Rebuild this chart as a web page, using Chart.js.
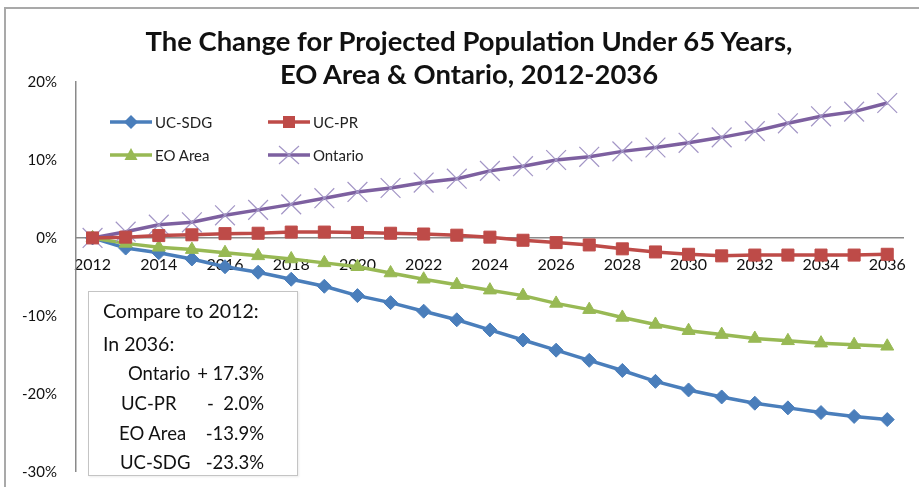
<!DOCTYPE html>
<html>
<head>
<meta charset="utf-8">
<script src="https://cdn.jsdelivr.net/npm/chart.js@4.4.1/dist/chart.umd.min.js"></script>
<style>
  html, body { margin: 0; padding: 0; background: #fff; }
  #wrap { position: relative; width: 919px; height: 487px; overflow: hidden; font-family: Lato, "Open Sans", sans-serif; color: #111; }
  #frame { position: absolute; left: 4px; top: 7px; width: 930px; height: 500px; border-top: 2px solid #a9a9a9; border-left: 2px solid #a9a9a9; box-sizing: border-box; }
  canvas { position: absolute; left: 0; top: 0; }
  .title { position: absolute; left: 0; width: 938px; text-align: center; font-size: 27.4px; font-weight: 700; line-height: 32px; color: #111; }
  .leg { position: absolute; height: 20px; line-height: 20px; font-size: 15px; color: #222; }
  .leg svg { position: absolute; left: 0; top: 0; }
  .leg span { position: absolute; left: 45px; top: 0; white-space: nowrap; }
  #note { position: absolute; left: 88px; top: 291px; width: 210px; height: 185px; border: 1px solid #c4c4c4; box-sizing: border-box; background: #fff; box-shadow: 1px 1px 2px rgba(0,0,0,0.08); }
  .nt { position: absolute; font-size: 18.5px; line-height: 24px; height: 24px; white-space: nowrap; color: #111; }
  .nh { font-size: 19.5px; }
  .nr { text-align: right; }
</style>
</head>
<body>
<div id="wrap">
  <div id="frame"></div>
  <canvas id="c" width="919" height="487"></canvas>
  <div class="title" style="top:25px">The Change for Projected Population Under 65 Years,</div>
  <div class="title" style="top:58px">EO Area &amp; Ontario, 2012-2036</div>
  <div id="legend"></div>
  <div id="note"></div>
</div>
<script>
// ---- data (percent change vs 2012) ----
const years = ["2012","2013","2014","2015","2016","2017","2018","2019","2020","2021","2022","2023","2024","2025","2026","2027","2028","2029","2030","2031","2032","2033","2034","2035","2036"];
const ucSdg   = [0, -1.3, -1.9, -2.7, -3.7, -4.4, -5.3, -6.2, -7.4, -8.3, -9.4, -10.5, -11.8, -13.1, -14.4, -15.7, -17.0, -18.4, -19.5, -20.4, -21.2, -21.8, -22.4, -22.9, -23.3];
const ucPr    = [0, 0.1, 0.3, 0.4, 0.55, 0.6, 0.75, 0.75, 0.7, 0.6, 0.5, 0.35, 0.1, -0.3, -0.6, -0.9, -1.4, -1.8, -2.1, -2.3, -2.2, -2.2, -2.2, -2.2, -2.1];
const eoArea  = [0, -0.7, -1.2, -1.5, -1.9, -2.3, -2.7, -3.2, -3.7, -4.5, -5.3, -6.0, -6.7, -7.4, -8.4, -9.2, -10.2, -11.1, -11.9, -12.4, -12.9, -13.2, -13.5, -13.7, -13.9];
const ontario = [0, 0.8, 1.7, 2.0, 2.9, 3.6, 4.3, 5.1, 5.9, 6.4, 7.1, 7.6, 8.6, 9.2, 10.0, 10.4, 11.1, 11.6, 12.2, 12.9, 13.7, 14.7, 15.6, 16.2, 17.3];
const yTicks = [20, 10, 0, -10, -20, -30];
const seriesNames = ["UC-SDG", "UC-PR", "EO Area", "Ontario"];
const noteTitle = ["Compare to 2012:", "In 2036:"];
const noteLabels = ["Ontario", "UC-PR", "EO Area", "UC-SDG"];
const noteValues = ["+ 17.3%", "-  2.0%", "-13.9%", "-23.3%"];

const C_BLUE = "#4A7EBB", C_RED = "#BE4B48", C_GREEN = "#98B954", C_PURPLE = "#7D60A0", C_CROSS = "#A396C6";

const styles = [
  { color: C_BLUE, mcolor: C_BLUE, style: "rectRot", r: 7, bw: 1 },
  { color: C_RED, mcolor: C_RED, style: "rect", r: 8.5, bw: 1 },
  { color: C_GREEN, mcolor: C_GREEN, style: "triangle", r: 7.5, bw: 1 },
  { color: C_PURPLE, mcolor: C_CROSS, style: "crossRot", r: 14, bw: 1.2 }
];
const seriesData = [ucSdg, ucPr, eoArea, ontario];

const datasets = seriesData.map((d, i) => ({
  label: seriesNames[i],
  data: d,
  borderColor: styles[i].color,
  backgroundColor: styles[i].mcolor,
  borderWidth: 3.5,
  pointStyle: styles[i].style,
  pointRadius: styles[i].r,
  pointHoverRadius: styles[i].r,
  pointBackgroundColor: styles[i].mcolor,
  pointBorderColor: styles[i].mcolor,
  pointBorderWidth: styles[i].bw,
  tension: 0,
  clip: false
}));
const order = [3, 0, 2, 1];
datasets.forEach((ds, i) => ds.order = order[i]);

new Chart(document.getElementById("c"), {
  type: "line",
  data: { labels: years, datasets },
  options: {
    responsive: false,
    animation: false,
    devicePixelRatio: 1,
    layout: { padding: { top: 82, left: 0, right: 9, bottom: 15 } },
    plugins: { legend: { display: false }, title: { display: false }, tooltip: { enabled: false } },
    scales: {
      x: {
        type: "category",
        offset: true,
        position: { y: 0 },
        grid: { display: false, drawTicks: false },
        border: { display: true, color: "#8a8a8a", width: 1.5 },
        ticks: {
          autoSkip: false, maxRotation: 0, minRotation: 0, padding: 17,
          color: "#111", font: { family: "Lato", size: 16 },
          callback: function (v, i) { return i % 2 === 0 ? years[i] : ""; }
        },
        afterFit: s => { s.height = 0; s.paddingTop = 0; s.paddingBottom = 0; s.paddingLeft = 0; s.paddingRight = 0; }
      },
      y: {
        min: -30, max: 20,
        grid: { display: false, drawTicks: false },
        border: { display: true, color: "#8a8a8a", width: 1.5 },
        ticks: {
          stepSize: 10, padding: 19, color: "#111", font: { family: "Lato", size: 15 },
          callback: v => yTicks.includes(v) ? v + "%" : ""
        },
        afterFit: s => { s.width = 76; s.paddingBottom = 0; s.paddingTop = 0; }
      }
    }
  }
});

// ---- legend (HTML) ----
function markerSvg(i) {
  const st = styles[i];
  let m = "";
  if (st.style === "rectRot") m = `<polygon points="21,3 28,10 21,17 14,10" fill="${st.mcolor}"/>`;
  else if (st.style === "rect") m = `<rect x="15" y="4" width="12" height="12" fill="${st.mcolor}"/>`;
  else if (st.style === "triangle") m = `<polygon points="21,3 27.5,15 14.5,15" fill="${st.mcolor}"/>`;
  else m = `<line x1="11" y1="1" x2="31" y2="19" stroke="${st.mcolor}" stroke-width="1.2"/><line x1="11" y1="19" x2="31" y2="1" stroke="${st.mcolor}" stroke-width="1.2"/>`;
  return `<svg width="44" height="20"><line x1="0" y1="10" x2="42" y2="10" stroke="${st.color}" stroke-width="3.5"/>${m}</svg>`;
}
const legPos = [[110, 112], [268, 112], [110, 145], [268, 145]];
const legend = document.getElementById("legend");
seriesNames.forEach((n, i) => {
  const d = document.createElement("div");
  d.className = "leg";
  d.style.left = legPos[i][0] + "px";
  d.style.top = legPos[i][1] + "px";
  d.innerHTML = markerSvg(i) + `<span>${n}</span>`;
  legend.appendChild(d);
});

// ---- annotation box ----
const note = document.getElementById("note");
const noteRowsY = [7, 40, 69, 99, 129, 158];
noteTitle.forEach((t, i) => {
  const s = document.createElement("div");
  s.className = "nt nh";
  s.style.left = "14px";
  s.style.top = noteRowsY[i] + "px";
  s.textContent = t;
  note.appendChild(s);
});
const labelLeft = [39, 32, 30, 31];
noteLabels.forEach((t, i) => {
  const s = document.createElement("div");
  s.className = "nt";
  s.style.left = labelLeft[i] + "px";
  s.style.top = noteRowsY[i + 2] + "px";
  s.textContent = t;
  note.appendChild(s);
  const v = document.createElement("div");
  v.className = "nt nr";
  v.style.right = "33px";
  v.style.top = noteRowsY[i + 2] + "px";
  v.style.whiteSpace = "pre";
  v.textContent = noteValues[i];
  note.appendChild(v);
});
</script>
</body>
</html>
